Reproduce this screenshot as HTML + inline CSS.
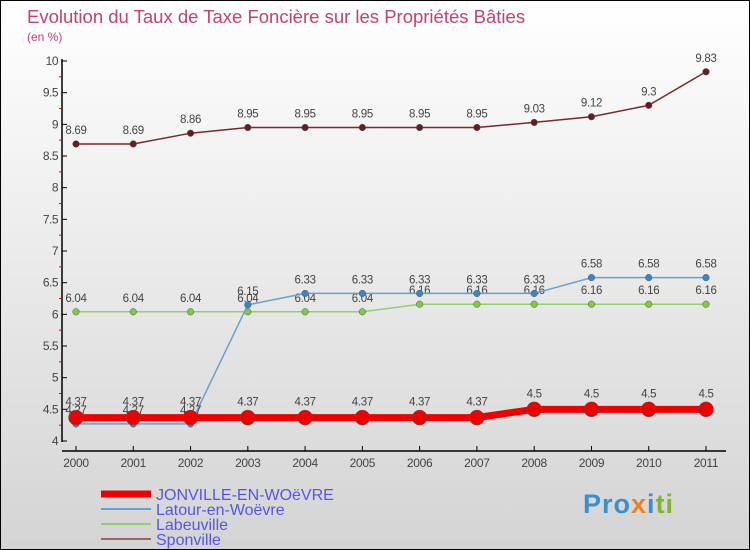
<!DOCTYPE html>
<html><head><meta charset="utf-8"><style>
body{margin:0}
#c{width:750px;height:550px;position:relative;box-sizing:border-box;border:1px solid #000;background:linear-gradient(#fff,#d4d4d4);font-family:"Liberation Sans",sans-serif;overflow:hidden}
svg text{font-family:"Liberation Sans",sans-serif}
</style></head><body>
<div id="c">
<svg id="s" width="750" height="550">
<text x="26" y="22" font-size="18.5" fill="#c84070">Evolution du Taux de Taxe Foncière sur les Propriétés Bâties</text>
<text x="26" y="40" font-size="12" fill="#c84070">(en %)</text>
</svg>
<div style="position:absolute;left:582px;top:488px;font-size:27px;font-weight:bold;letter-spacing:1px"><span style="color:#3a8fd0">Pro</span><span style="color:#f08020">x</span><span style="color:#3a8fd0">i</span><span style="color:#7ab82a">ti</span></div>
</div>
<script>
const years=["2000","2001","2002","2003","2004","2005","2006","2007","2008","2009","2010","2011"];
const yTicks=[4,4.5,5,5.5,6,6.5,7,7.5,8,8.5,9,9.5,10];
const jonville=[4.37,4.37,4.37,4.37,4.37,4.37,4.37,4.37,4.5,4.5,4.5,4.5];
const latour=[4.27,4.27,4.27,6.15,6.33,6.33,6.33,6.33,6.33,6.58,6.58,6.58];
const labeuville=[6.04,6.04,6.04,6.04,6.04,6.04,6.16,6.16,6.16,6.16,6.16,6.16];
const sponville=[8.69,8.69,8.86,8.95,8.95,8.95,8.95,8.95,9.03,9.12,9.3,9.83];
const NS="http://www.w3.org/2000/svg",s=document.getElementById('s');
const X=i=>75+i*(630/11),Y=v=>440-(v-4)*(380/6);
function mk(t,a){const e=document.createElementNS(NS,t);for(const k in a)e.setAttribute(k,a[k]);s.appendChild(e);return e;}
let ax=mk('line',{x1:61,y1:58,x2:61,y2:441,stroke:'#000','stroke-width':1.5});

let xa=mk('line',{x1:61,y1:450,x2:725,y2:450,stroke:'#000','stroke-width':1.5});

yTicks.forEach((v,i)=>{mk('line',{x1:61,y1:Y(v),x2:66,y2:Y(v),stroke:'#000'});
 if(i<yTicks.length-1)mk('line',{x1:58,y1:Y(v+0.25),x2:61,y2:Y(v+0.25),stroke:'#e00'});
 const t=mk('text',{x:57,y:Y(v)+4,'font-size':12,fill:'#444','text-anchor':'end','letter-spacing':'-0.5'});t.textContent=String(v);
 });
years.forEach((y,i)=>{mk('line',{x1:X(i),y1:445,x2:X(i),y2:450,stroke:'#000'});
 const t=mk('text',{x:X(i),y:466,'font-size':12,fill:'#444','text-anchor':'middle','letter-spacing':'-0.3'});t.textContent=y;
 });
function series(d,col,w,r,dot,name,lblOff){
 const p=mk('polyline',{points:d.map((v,i)=>X(i)+','+Y(v)).join(' '),fill:'none',stroke:col,'stroke-width':w});
 
 d.forEach((v,i)=>{const c=mk('circle',{cx:X(i),cy:Y(v),r:r,fill:dot,stroke:'#555','stroke-width':0.5});
  
  const t=mk('text',{x:X(i),y:Y(v)-lblOff,'font-size':11.5,fill:'#444','text-anchor':'middle','letter-spacing':'-0.3'});t.textContent=String(v);
  });
}
series(sponville,'#7a2a2a',1.5,3.3,'#6a1a22','sponville',10);
series(labeuville,'#90d070',1.5,3.3,'#7ccc44','labeuville',10);
series(latour,'#6aa0d0',1.5,3.3,'#3388cc','latour',10);
series(jonville,'#ee0000',7,7.5,'#ee0000','jonville',12);
const leg=[['JONVILLE-EN-WOëVRE','#ee0000',7],['Latour-en-Woëvre','#6aa0d0',2],['Labeuville','#90d070',2],['Sponville','#996666',2]];
leg.forEach((l,i)=>{const y=493+i*15;mk('line',{x1:100,y1:y,x2:150,y2:y,stroke:l[1],'stroke-width':l[2]});
 const t=mk('text',{x:155,y:y+6,'font-size':16,fill:'#5555ee'});t.textContent=l[0];
 });
</script>
</body></html>
